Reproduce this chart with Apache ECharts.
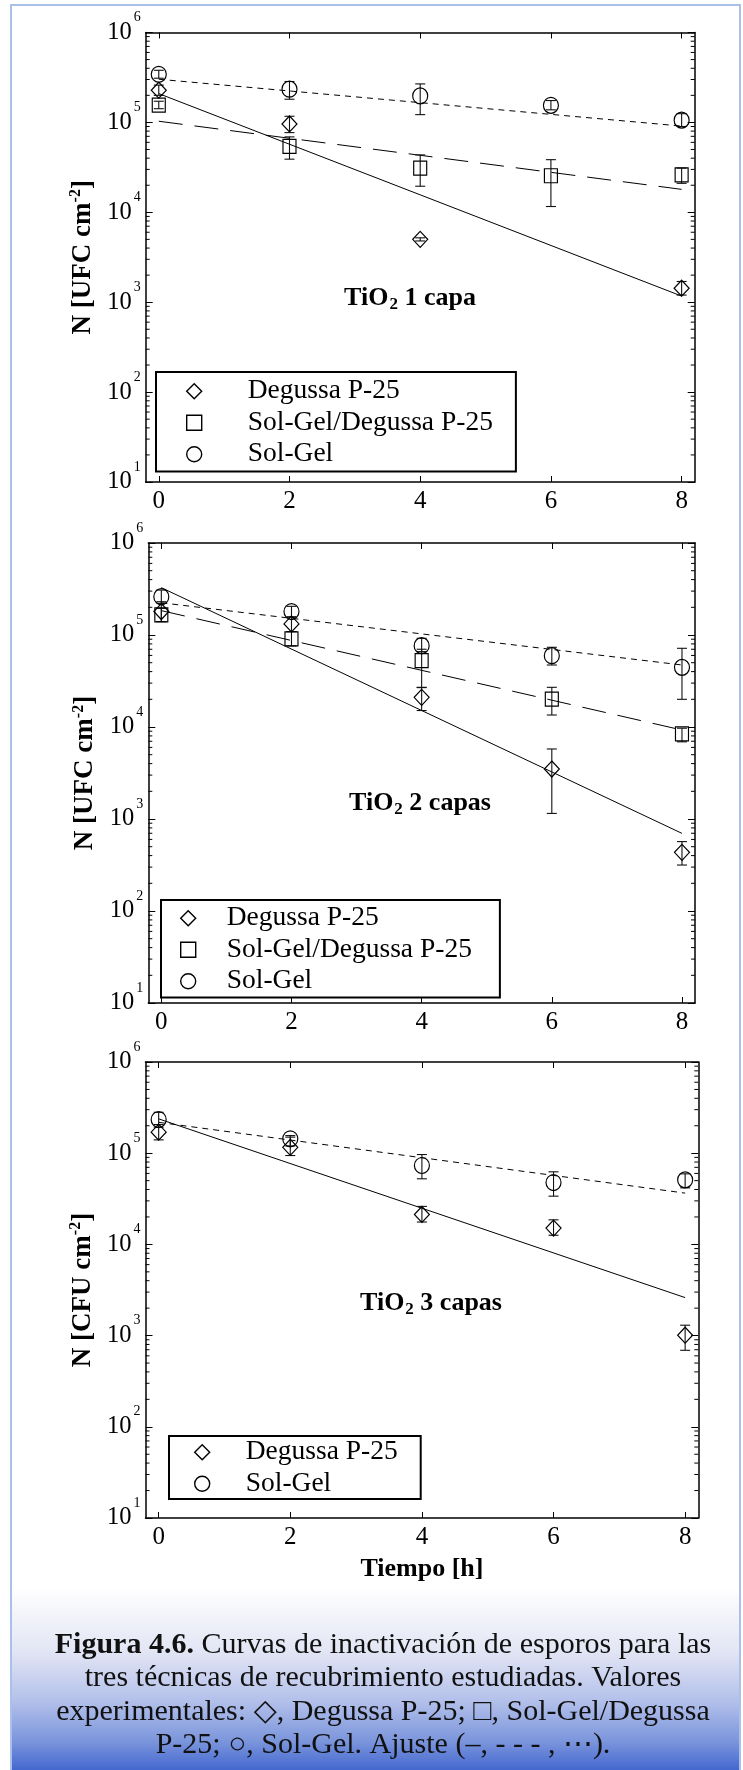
<!DOCTYPE html>
<html><head><meta charset="utf-8">
<script src="https://cdn.jsdelivr.net/npm/echarts@6/dist/echarts.min.js"></script>
<style>html,body{margin:0;padding:0;background:#fff}#c{width:743px;height:1770px}</style>
</head><body><div id="c"></div>
<script>
// ---------- data ----------
const times = [0, 2, 4, 6, 8];
const fitTimes = [0, 8];
const xTickValues = [0, 2, 4, 6, 8];
const yDecades = [10, 100, 1000, 10000, 100000, 1000000];
const minorMultipliers = [2, 3, 4, 5, 6, 7, 8, 9];
const seriesNames = ['Degussa P-25', 'Sol-Gel/Degussa P-25', 'Sol-Gel'];
const panelTitles = ['1 capa', '2 capas', '3 capas'];
const yUnits = ['UFC', 'UFC', 'CFU'];

// Panel 1 (TiO2 1 capa)
const p1DegussaT = [0, 2, 4, 8];
const p1Degussa = [2.28e5, 9.6e4, 5.0e3, 1.43e3];
const p1DegussaLo = [2.0e5, 7.7e4, 4.8e3, 1.2e3];
const p1DegussaHi = [2.6e5, 1.17e5, 5.2e3, 1.7e3];
const p1SGD = [1.56e5, 5.4e4, 3.1e4, 2.55e4, 2.6e4];
const p1SGDLo = [1.42e5, 3.9e4, 1.95e4, 1.16e4, 2.1e4];
const p1SGDHi = [1.72e5, 6.9e4, 4.35e4, 3.85e4, 3.1e4];
const p1SG = [3.43e5, 2.34e5, 1.97e5, 1.55e5, 1.06e5];
const p1SGLo = [3.1e5, 1.81e5, 1.22e5, 1.38e5, 9.0e4];
const p1SGHi = [3.8e5, 2.85e5, 2.68e5, 1.75e5, 1.25e5];
const p1DegussaFit = [2.09e5, 1.17e3];
const p1SGDFit = [1.03e5, 1.80e4];
const p1SGFit = [3.02e5, 9.1e4];

// Panel 2 (TiO2 2 capas)
const p2Degussa = [1.80e5, 1.32e5, 2.10e4, 3.49e3, 434];
const p2DegussaLo = [1.40e5, 1.09e5, 1.51e4, 1.15e3, 316];
const p2DegussaHi = [2.3e5, 1.56e5, 2.68e4, 5.77e3, 568];
const p2SGD = [1.65e5, 9.05e4, 5.26e4, 2.01e4, 8.4e3];
const p2SGDLo = [1.4e5, 7.6e4, 2.7e4, 1.35e4, 6.9e3];
const p2SGDHi = [1.95e5, 1.09e5, 7.0e4, 2.7e4, 9.7e3];
const p2SG = [2.61e5, 1.80e5, 7.66e4, 5.96e4, 4.45e4];
const p2SGLo = [2.21e5, 1.58e5, 6.6e4, 4.72e4, 2.0e4];
const p2SGHi = [3.08e5, 2.05e5, 9.2e4, 7.35e4, 7.17e4];
const p2DegussaFit = [3.27e5, 698];
const p2SGDFit = [1.84e5, 9.27e3];
const p2SGFit = [2.24e5, 4.72e4];

// Panel 3 (TiO2 3 capas)
const p3Degussa = [1.70e5, 1.16e5, 2.13e4, 1.51e4, 1.01e3];
const p3DegussaLo = [1.40e5, 9.43e4, 1.76e4, 1.26e4, 690];
const p3DegussaHi = [2.06e5, 1.50e5, 2.61e4, 1.86e4, 1.30e3];
const p3SG = [2.34e5, 1.44e5, 7.33e4, 4.77e4, 5.1e4];
const p3SGLo = [1.93e5, 1.2e5, 5.24e4, 3.38e4, 4.17e4];
const p3SGHi = [2.81e5, 1.56e5, 9.67e4, 6.25e4, 5.94e4];
const p3DegussaFit = [2.38e5, 2.61e3];
const p3SGFit = [2.18e5, 3.65e4];

// ---------- style / layout ----------
const F = '"Liberation Serif", "DejaVu Serif", serif';
const grids = [
  {left: 145.7, top: 32.5, width: 549, height: 449.5},
  {left: 148.3, top: 543, width: 546.7, height: 460},
  {left: 145.5, top: 1062, width: 552.8, height: 456}
];
const symbolOf = {'Degussa P-25': 'diamond', 'Sol-Gel/Degussa P-25': 'rect', 'Sol-Gel': 'circle'};
const sizeOf = {'Degussa P-25': [15, 16], 'Sol-Gel/Degussa P-25': [13, 14], 'Sol-Gel': [15, 16]};
const dashOf = {'Degussa P-25': 'solid', 'Sol-Gel/Degussa P-25': [24, 12], 'Sol-Gel': [6, 5]};

const panels = [
  {sets: [
    {name: seriesNames[0], t: p1DegussaT, v: p1Degussa, lo: p1DegussaLo, hi: p1DegussaHi, fit: p1DegussaFit},
    {name: seriesNames[1], t: times, v: p1SGD, lo: p1SGDLo, hi: p1SGDHi, fit: p1SGDFit},
    {name: seriesNames[2], t: times, v: p1SG, lo: p1SGLo, hi: p1SGHi, fit: p1SGFit}
  ]},
  {sets: [
    {name: seriesNames[0], t: times, v: p2Degussa, lo: p2DegussaLo, hi: p2DegussaHi, fit: p2DegussaFit},
    {name: seriesNames[1], t: times, v: p2SGD, lo: p2SGDLo, hi: p2SGDHi, fit: p2SGDFit},
    {name: seriesNames[2], t: times, v: p2SG, lo: p2SGLo, hi: p2SGHi, fit: p2SGFit}
  ]},
  {sets: [
    {name: seriesNames[0], t: times, v: p3Degussa, lo: p3DegussaLo, hi: p3DegussaHi, fit: p3DegussaFit},
    {name: seriesNames[2], t: times, v: p3SG, lo: p3SGLo, hi: p3SGHi, fit: p3SGFit}
  ]}
];

const minorValues = [];
yDecades.slice(0, -1).forEach(d => minorMultipliers.forEach(m => minorValues.push(m * d)));

function errRender(params, api) {
  const x = api.value(0), lo = api.value(1), hi = api.value(2);
  const a = api.coord([x, lo]), b = api.coord([x, hi]);
  const w = 5, st = {stroke: '#111', lineWidth: 1.1};
  return {type: 'group', children: [
    {type: 'line', shape: {x1: a[0], y1: a[1], x2: b[0], y2: b[1]}, style: st},
    {type: 'line', shape: {x1: a[0] - w, y1: a[1], x2: a[0] + w, y2: a[1]}, style: st},
    {type: 'line', shape: {x1: b[0] - w, y1: b[1], x2: b[0] + w, y2: b[1]}, style: st}
  ]};
}
function minorRender(params, api) {
  const y = api.coord([0, api.value(1)])[1];
  const cs = params.coordSys, L = 4, st = {stroke: '#000', lineWidth: 1};
  return {type: 'group', children: [
    {type: 'line', shape: {x1: cs.x, y1: y, x2: cs.x + L, y2: y}, style: st},
    {type: 'line', shape: {x1: cs.x + cs.width - L, y1: y, x2: cs.x + cs.width, y2: y}, style: st}
  ]};
}

const xAxes = [], yAxes = [], series = [];
const axisLineStyle = {show: true, onZero: false, lineStyle: {color: '#000', width: 1.5}};
grids.forEach((g, i) => {
  const xBase = {type: 'value', gridIndex: i, min: -0.2, max: 8.2, splitLine: {show: false},
    axisLine: axisLineStyle};
  xAxes.push(Object.assign({}, xBase, {position: 'bottom',
    axisTick: {inside: true, length: 6, customValues: xTickValues, lineStyle: {color: '#000', width: 1}},
    axisLabel: {customValues: xTickValues, margin: 7, fontSize: 25, fontFamily: F, color: '#000'},
    name: i === 2 ? 'Tiempo [h]' : '', nameLocation: 'middle', nameGap: 38,
    nameTextStyle: {fontSize: 26, fontWeight: 'bold', fontFamily: F, color: '#000'}}));
  xAxes.push(Object.assign({}, xBase, {position: 'top',
    axisTick: {inside: true, length: 6, customValues: xTickValues, lineStyle: {color: '#000', width: 1}},
    axisLabel: {show: false}}));
  const yBase = {type: 'log', logBase: 10, gridIndex: i, min: yDecades[0], max: yDecades[yDecades.length - 1],
    splitLine: {show: false}, axisLine: axisLineStyle,
    axisTick: {inside: true, length: 7, lineStyle: {color: '#000', width: 1}}};
  yAxes.push(Object.assign({}, yBase, {position: 'left',
    axisLabel: {margin: 5, formatter: v => '{b|10}{e|' + Math.round(Math.log10(v)) + '}',
      rich: {b: {fontSize: 24.5, fontFamily: F, color: '#000', lineHeight: 24},
             e: {fontSize: 14, fontFamily: F, color: '#000', lineHeight: 14, padding: [0, 0, 30, 2]}}},
    name: 'N [' + yUnits[i] + ' cm{s|-2}]', nameLocation: 'middle', nameRotate: 90, nameGap: 41,
    nameTextStyle: {fontSize: 27, fontWeight: 'bold', fontFamily: F, color: '#000',
      rich: {s: {fontSize: 16, fontWeight: 'bold', fontFamily: F, color: '#000', padding: [0, 0, 14, 0]}}}}));
  yAxes.push(Object.assign({}, yBase, {position: 'right', axisLabel: {show: false}}));

  const xi = 2 * i, yi = 2 * i;
  series.push({type: 'custom', name: 'minor' + i, xAxisIndex: xi, yAxisIndex: yi, silent: true,
    renderItem: minorRender, data: minorValues.map(v => [0, v]), encode: {x: 0, y: 1}, clip: false});
  panels[i].sets.forEach(s => {
    series.push({type: 'line', name: s.name + ' ajuste', xAxisIndex: xi, yAxisIndex: yi, silent: true,
      symbol: 'none', data: fitTimes.map((t, k) => [t, s.fit[k]]),
      lineStyle: {color: '#000', width: 1, type: dashOf[s.name]}, z: 2});
    series.push({type: 'custom', name: s.name + ' error', xAxisIndex: xi, yAxisIndex: yi, silent: true,
      renderItem: errRender, encode: {x: 0, y: [1, 2]},
      data: s.t.map((t, k) => [t, s.lo[k], s.hi[k]]), z: 3});
    series.push({type: 'scatter', name: s.name, xAxisIndex: xi, yAxisIndex: yi, silent: true,
      symbol: symbolOf[s.name], symbolSize: sizeOf[s.name],
      itemStyle: {color: 'rgba(0,0,0,0)', borderColor: '#000', borderWidth: 1.2, opacity: 1},
      data: s.t.map((t, k) => [t, s.v[k]]), z: 4});
  });
});

const legendBase = {orient: 'vertical', borderColor: '#000', borderWidth: 2, itemGap: 3,
  itemWidth: 15, itemHeight: 15, selectedMode: false,
  itemStyle: {color: 'rgba(0,0,0,0)', borderColor: '#000', borderWidth: 1.4}};
const legendText = pad => ({fontSize: 27.5, fontFamily: F, color: '#000', lineHeight: 28.5, padding: [0, 0, 0, pad]});
const legends = [
  Object.assign({}, legendBase, {left: 156, top: 372, padding: [5, 23, 3, 30], textStyle: legendText(41),
    data: seriesNames.map(n => ({name: n, icon: symbolOf[n]}))}),
  Object.assign({}, legendBase, {left: 161, top: 900, padding: [4, 28, 2, 19], textStyle: legendText(26),
    data: seriesNames.map(n => ({name: n, icon: symbolOf[n]}))}),
  Object.assign({}, legendBase, {left: 169, top: 1436, padding: [2, 23, 1, 25], textStyle: legendText(31),
    data: [seriesNames[0], seriesNames[2]].map(n => ({name: n, icon: symbolOf[n]}))})
];

const titlePos = [[410, 298], [420, 803], [431, 1303]];
const titleRich = {
  b: {fontSize: 26, fontWeight: 'bold', fontFamily: F, fill: '#000', lineHeight: 26},
  s: {fontSize: 17, fontWeight: 'bold', fontFamily: F, fill: '#000', padding: [14, 0, 0, 1]}
};
const captionLines = [
  '{b|Figura 4.6.} Curvas de inactivación de esporos para las',
  'tres técnicas de recubrimiento estudiadas. Valores',
  'experimentales: \u25C7, Degussa P-25; \u25A1, Sol-Gel/Degussa',
  'P-25; \u25CB, Sol-Gel. Ajuste (\u2013, - - - , \u22EF).'
];

const graphics = [
  {type: 'rect', silent: true, z: -10, shape: {x: 12, y: 1588, width: 727, height: 182},
    style: {fill: {type: 'linear', x: 0, y: 0, x2: 0, y2: 1, colorStops: [
      {offset: 0, color: '#ffffff'}, {offset: 0.35, color: '#e2e5f4'}, {offset: 0.62, color: '#b3c0ea'},
      {offset: 0.84, color: '#7c96dc'}, {offset: 1, color: '#4468cf'}]}}},
  {type: 'rect', silent: true, z: -9, shape: {x: 11, y: 5, width: 729, height: 1800},
    style: {fill: 'none', stroke: '#a9c0e8', lineWidth: 2}},
  {type: 'text', silent: true, x: 383, y: 1628, style: {
    text: captionLines.join('\n'), fontSize: 30, fontFamily: F, fill: '#111', lineHeight: 33.5,
    align: 'center', verticalAlign: 'top',
    rich: {b: {fontSize: 30, fontWeight: 'bold', fontFamily: F, fill: '#111', lineHeight: 33.5}}}}
];
titlePos.forEach((p, i) => graphics.push({type: 'text', silent: true, x: p[0], y: p[1], style: {
  text: '{b|TiO}{s|2}{b| ' + panelTitles[i] + '}', rich: titleRich, align: 'center', verticalAlign: 'middle'}}));

const chart = echarts.init(document.getElementById('c'), null, {renderer: 'canvas'});
chart.setOption({
  animation: false,
  backgroundColor: '#fff',
  grid: grids.map(g => Object.assign({outerBoundsMode: 'none', containLabel: false}, g)),
  xAxis: xAxes,
  yAxis: yAxes,
  legend: legends,
  series: series,
  graphic: graphics
});
</script></body></html>
